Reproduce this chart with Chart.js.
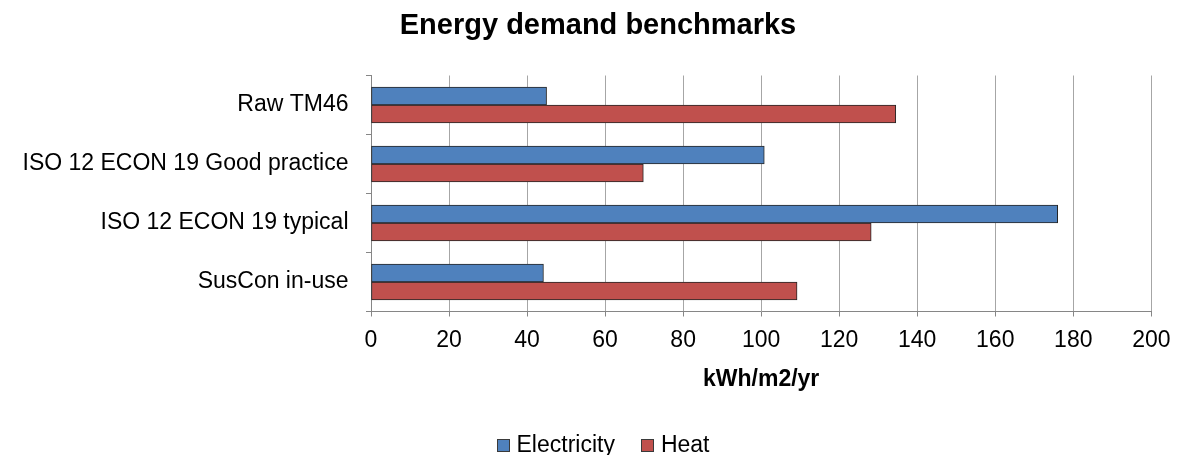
<!DOCTYPE html>
<html>
<head>
<meta charset="utf-8">
<title>Energy demand benchmarks</title>
<script src="https://cdn.jsdelivr.net/npm/chart.js@4"></script>
<style>
  html, body { margin: 0; padding: 0; background: #ffffff; }
  #wrap { width: 1181px; height: 455px; }
</style>
</head>
<body>
<div id="wrap"><canvas id="chart" width="1181" height="455"></canvas></div>
<script>
// Benchmarks (kWh/m2/yr)
const categories = ['Raw TM46', 'ISO 12 ECON 19 Good practice', 'ISO 12 ECON 19 typical', 'SusCon in-use'];
const electricity = [45, 100.8, 176, 44.2];
const heat = [134.5, 69.8, 128.2, 109.2];
const seriesNames = ['Electricity', 'Heat'];
const xTickValues = [0, 20, 40, 60, 80, 100, 120, 140, 160, 180, 200];
const chartTitle = 'Energy demand benchmarks';

const FONT = '"Liberation Sans", Arial, sans-serif';
const BLUE = '#4f81bd';
const RED = '#c0504d';
const EDGE = '#262626';
const AXIS = '#868686';
const GRID = '#a6a6a6';

// Title above the plot, centred a little right of the canvas middle
const topTitle = {
  id: 'topTitle',
  afterDraw(chart) {
    const ctx = chart.ctx;
    ctx.save();
    ctx.font = 'bold 29px ' + FONT;
    ctx.fillStyle = '#000';
    ctx.textAlign = 'center';
    ctx.textBaseline = 'middle';
    ctx.fillText(chartTitle, 598, 26);
    ctx.restore();
  }
};

// Legend row under the axis title: square swatch, then the series name
const bottomLegend = {
  id: 'bottomLegend',
  afterDraw(chart) {
    const ctx = chart.ctx;
    const box = 13, gap = 7, itemGap = 26, cy = 445, cx = 603;
    ctx.save();
    ctx.font = '23px ' + FONT;
    const items = chart.data.datasets.map(ds => ({
      text: ds.label, color: ds.backgroundColor, w: box + gap + ctx.measureText(ds.label).width
    }));
    const total = items.reduce((s, it) => s + it.w, 0) + itemGap * (items.length - 1);
    let x = cx - total / 2;
    ctx.textBaseline = 'middle';
    ctx.textAlign = 'left';
    items.forEach(it => {
      const bx = Math.round(x) + 0.5, by = Math.round(cy - box / 2) + 0.5;
      ctx.fillStyle = it.color;
      ctx.fillRect(bx, by, box - 1, box - 1);
      ctx.strokeStyle = '#3a3a3a';
      ctx.lineWidth = 1;
      ctx.strokeRect(bx, by, box - 1, box - 1);
      ctx.fillStyle = '#000';
      ctx.fillText(it.text, x + box + gap, cy + 1);
      x += it.w + itemGap;
    });
    ctx.restore();
  }
};

new Chart(document.getElementById('chart'), {
  type: 'bar',
  data: {
    labels: categories,
    datasets: [
      { label: seriesNames[0], data: electricity, backgroundColor: BLUE, borderColor: EDGE, borderWidth: 1, borderSkipped: false },
      { label: seriesNames[1], data: heat, backgroundColor: RED, borderColor: EDGE, borderWidth: 1, borderSkipped: false }
    ]
  },
  options: {
    indexAxis: 'y',
    responsive: false,
    animation: false,
    devicePixelRatio: 1,
    layout: { padding: { left: 0, right: 29, top: 75.5, bottom: 0 } },
    datasets: { bar: { barThickness: 18 } },
    plugins: {
      legend: { display: false },
      tooltip: { enabled: false },
      title: { display: false }
    },
    scales: {
      x: {
        type: 'linear',
        min: 0,
        max: 200,
        afterBuildTicks(scale) { scale.ticks = xTickValues.map(v => ({ value: v })); },
        afterFit(scale) { scale.height = 143.5; },
        ticks: { color: '#000', font: { family: FONT, size: 23 }, padding: 10.5, maxRotation: 0, autoSkip: false },
        grid: { color: GRID, tickColor: AXIS, lineWidth: 1, tickLength: 5, drawOnChartArea: true },
        border: { display: true, color: AXIS },
        title: {
          display: true,
          text: 'kWh/m2/yr',
          color: '#000',
          font: { family: FONT, size: 23, weight: 'bold', lineHeight: 1.2 },
          padding: { top: 0, bottom: 62 }
        }
      },
      y: {
        afterFit(scale) { scale.width = 371; },
        ticks: { color: '#000', font: { family: FONT, size: 23 }, padding: 17.5 },
        grid: { color: AXIS, tickColor: AXIS, drawOnChartArea: false, tickLength: 5, offset: true },
        border: { display: true, color: AXIS }
      }
    }
  },
  plugins: [topTitle, bottomLegend]
});
</script>
</body>
</html>
